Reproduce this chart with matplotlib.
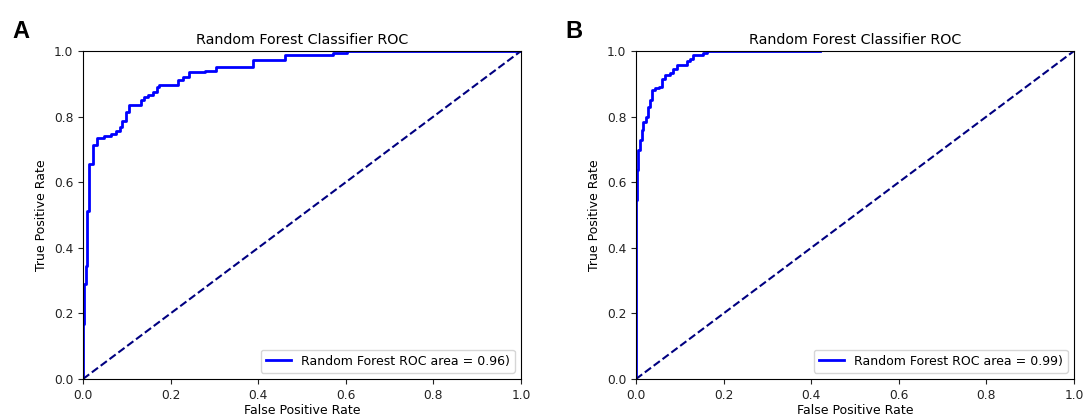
import matplotlib
matplotlib.use("Agg")
import matplotlib.pyplot as plt

# Panel A ROC corner points
fpr_a = [0, 0, 0.003, 0.006, 0.009, 0.014, 0.022, 0.031, 0.048, 0.063, 0.075, 0.084,
         0.090, 0.098, 0.106, 0.132, 0.140, 0.148, 0.159, 0.168, 0.173, 0.216, 0.228,
         0.242, 0.278, 0.304, 0.387, 0.461, 0.571, 0.602, 1.0]
tpr_a = [0, 0.168, 0.29, 0.345, 0.513, 0.655, 0.714, 0.735, 0.74, 0.747, 0.757, 0.769,
         0.786, 0.813, 0.836, 0.85, 0.861, 0.866, 0.874, 0.889, 0.897, 0.912, 0.92,
         0.935, 0.94, 0.95, 0.973, 0.988, 0.995, 1.0, 1.0]

# Panel B ROC corner points
fpr_b = [0, 0, 0.003, 0.005, 0.009, 0.013, 0.017, 0.023, 0.028, 0.032, 0.036, 0.043,
         0.053, 0.059, 0.066, 0.078, 0.085, 0.093, 0.116, 0.123, 0.131, 0.154, 0.161, 0.42]
tpr_b = [0, 0.545, 0.636, 0.698, 0.728, 0.759, 0.784, 0.80, 0.83, 0.85, 0.88, 0.886,
         0.891, 0.916, 0.927, 0.934, 0.944, 0.957, 0.97, 0.977, 0.987, 0.993, 1.0, 1.0]

panels = [("A", fpr_a, tpr_a, "Random Forest ROC area = 0.96)"),
          ("B", fpr_b, tpr_b, "Random Forest ROC area = 0.99)")]
diag = [0, 1]
ticks = [0.0, 0.2, 0.4, 0.6, 0.8, 1.0]
tick_labels = ["0.0", "0.2", "0.4", "0.6", "0.8", "1.0"]

fig = plt.figure(figsize=(10.87, 4.16), dpi=100)
lefts = [83 / 1087, 636 / 1087]
letter_x = [12 / 1087, 565 / 1087]
w = 438 / 1087
b = 1 - 379 / 416
h = 328 / 416

for (letter, fpr, tpr, lab), l, lx in zip(panels, lefts, letter_x):
    ax = fig.add_axes([l, b, w, h])
    ax.plot(fpr, tpr, color="blue", lw=2, drawstyle="steps-post", label=lab)
    ax.plot(diag, diag, color="navy", lw=1.5, linestyle="--")
    ax.set_xlim(0, 1)
    ax.set_ylim(0, 1)
    ax.set_xticks(ticks)
    ax.set_xticklabels(tick_labels)
    ax.set_yticks(ticks)
    ax.set_yticklabels(tick_labels)
    ax.tick_params(labelsize=8.8, length=3.5, width=0.8, colors="#222222")
    ax.set_xlabel("False Positive Rate", fontsize=9, labelpad=2)
    ax.set_ylabel("True Positive Rate", fontsize=9, labelpad=4)
    ax.set_title("Random Forest Classifier ROC", fontsize=10.3, pad=5)
    for s in ax.spines.values():
        s.set_linewidth(0.8)
    ax.legend(loc="lower right", fontsize=9, handlelength=2)
    fig.text(lx, 1 - 38 / 416, letter, fontsize=17, fontweight="bold",
             family="Liberation Sans", ha="left", va="baseline")

fig.savefig("out.png", dpi=100)
